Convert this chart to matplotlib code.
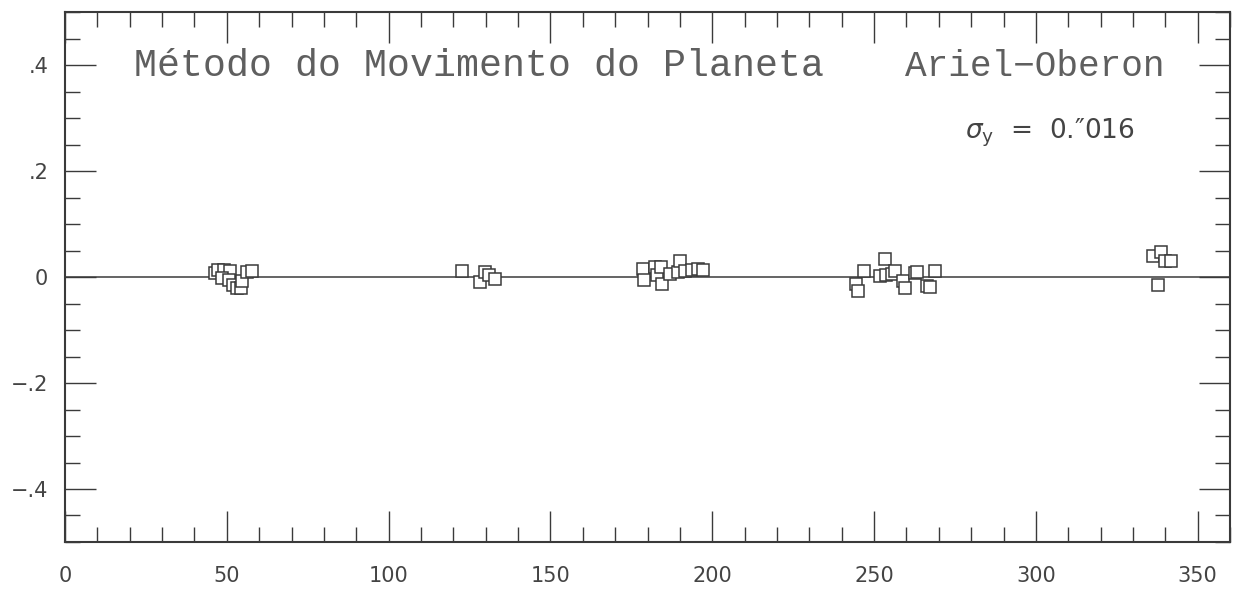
import numpy as np
import matplotlib.pyplot as plt
from matplotlib.ticker import MultipleLocator, FuncFormatter

# residuos em y (") versus longitude orbital (graus)
lon_1 = [46.3, 47.4, 49.2, 51.0, 48.4, 50.6, 51.8, 53.0, 54.5, 54.8, 56.3, 57.8]
res_1 = [0.008, 0.014, 0.014, 0.012, -0.002, -0.006, -0.015, -0.021, -0.021, -0.008, 0.010, 0.012]

lon_2 = [122.6, 128.2, 129.7, 131.0, 132.8]
res_2 = [0.011, -0.009, 0.010, 0.004, -0.003]

lon_3 = [178.7, 178.9, 182.3, 182.8, 184.3, 184.6, 186.9, 189.5, 190.0, 191.5, 193.6, 195.6, 197.2]
res_3 = [0.016, -0.006, 0.019, 0.003, 0.019, -0.013, 0.005, 0.009, 0.031, 0.011, 0.013, 0.016, 0.014]

lon_4 = [244.3, 245.0, 246.8, 251.8, 253.3, 253.8, 255.4, 256.6, 258.8, 259.7, 262.6, 263.2, 266.3, 267.2, 268.8]
res_4 = [-0.013, -0.026, 0.012, 0.002, 0.034, 0.003, 0.006, 0.011, -0.008, -0.020, 0.008, 0.010, -0.017, -0.019, 0.012]

lon_5 = [336.3, 338.8, 339.9, 341.6, 337.8]
res_5 = [0.040, 0.047, 0.031, 0.030, -0.016]

titulo = "Método do Movimento do Planeta"
satelites = "Ariel\u2212Oberon"
sigma_txt = "$\\sigma_{\\rm y}$  =  0.\u2033016"

cor = "#3a3a3a"

fig = plt.figure(figsize=(12.41, 5.89), dpi=100)
ax = fig.add_axes([0.0524, 0.0798, 0.9388, 0.8998])

ax.axhline(0, color=cor, lw=1.1, zorder=1)

for lon, res in [(lon_1, res_1), (lon_2, res_2), (lon_3, res_3), (lon_4, res_4), (lon_5, res_5)]:
    ax.plot(lon, res, ls="none", marker="s", ms=8.5, mfc="white", mec=cor, mew=1.1, zorder=3)

ax.set_xlim(0, 360)
ax.set_ylim(-0.5, 0.5)

ax.xaxis.set_major_locator(MultipleLocator(50))
ax.xaxis.set_minor_locator(MultipleLocator(10))
ax.yaxis.set_major_locator(MultipleLocator(0.2))
ax.yaxis.set_minor_locator(MultipleLocator(0.05))


def fmt_y(v, pos):
    if abs(v) < 1e-9:
        return "0"
    s = "%.1f" % abs(v)
    s = s.lstrip("0")
    return ("\u2212" if v < 0 else "") + s


ax.yaxis.set_major_formatter(FuncFormatter(fmt_y))
ax.set_xticks([0, 50, 100, 150, 200, 250, 300, 350])

ax.tick_params(which="both", direction="in", top=True, right=True, colors=cor, width=1.0)
ax.tick_params(which="major", length=22)
ax.tick_params(which="minor", length=11)
ax.tick_params(axis="x", which="major", pad=17, labelsize=15, labelcolor="#444444")
ax.tick_params(axis="y", which="major", pad=12, labelsize=15, labelcolor="#444444")

for sp in ax.spines.values():
    sp.set_color(cor)
    sp.set_linewidth(1.5)

ax.text(0.059, 0.898, titulo, transform=ax.transAxes, fontsize=27.5,
        family="Liberation Mono", color="#5f5f5f", va="center", ha="left")
ax.text(0.721, 0.898, satelites, transform=ax.transAxes, fontsize=26,
        family="Liberation Mono", color="#5f5f5f", va="center", ha="left")
ax.text(0.918, 0.772, sigma_txt, transform=ax.transAxes, fontsize=19,
        color="#444444", va="center", ha="right")

fig.savefig("out.png", dpi=100)
